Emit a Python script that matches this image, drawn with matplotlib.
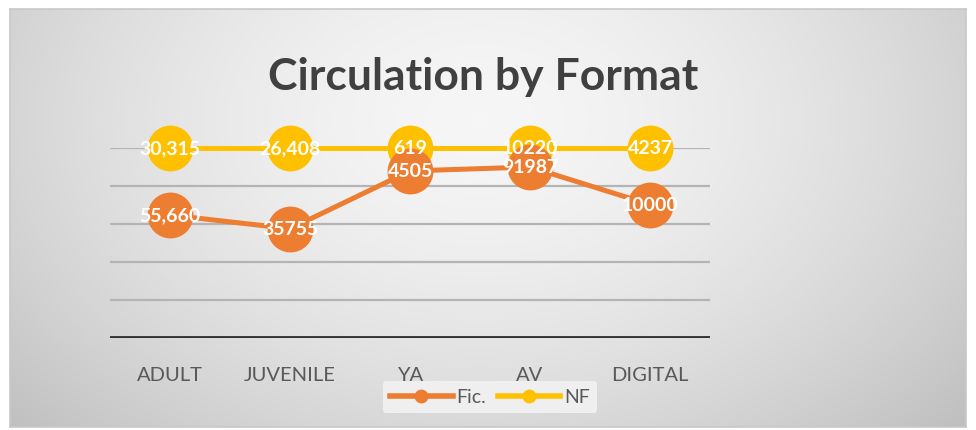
import numpy as np
import matplotlib
matplotlib.use('Agg')
import matplotlib.pyplot as plt
from matplotlib.lines import Line2D

# data (100% stacked line chart)
categories = ['ADULT', 'JUVENILE', 'YA', 'AV', 'DIGITAL']
fic = [55660, 35755, 4505, 91987, 10000]
nf = [30315, 26408, 619, 10220, 4237]
fic_labels = ['55,660', '35755', '4505', '91987', '10000']
nf_labels = ['30,315', '26,408', '619', '10220', '4237']

W, H = 976, 431
fig = plt.figure(figsize=(W / 100, H / 100), dpi=100)
fig.patch.set_facecolor('white')

# gradient panel behind the chart
bg = fig.add_axes([10 / W, 3 / H, 956 / W, 418 / H])
yy, xx = np.mgrid[0:418, 0:956]
r = np.sqrt(((xx - 470) / 600.0) ** 2 + ((yy - 110) / 420.0) ** 2)
shade = np.clip(0.965 - 0.19 * r ** 1.6, 0.75, 0.97)
bg.imshow(np.dstack([shade] * 3), aspect='auto', extent=[0, 1, 0, 1])
bg.set_xticks([])
bg.set_yticks([])
for s in bg.spines.values():
    s.set_color('#c8c8c8')
    s.set_linewidth(1.2)

ax = fig.add_axes([110 / W, 1 - 339 / H, 600 / W, 190 / H])
ax.patch.set_alpha(0)

x = np.arange(len(categories))
fic = np.array(fic, dtype=float)
nf = np.array(nf, dtype=float)
total = fic + nf
fic_share = fic / total
nf_share = (fic + nf) / total

orange = '#ED7D31'
gold = '#FFC000'

for yv in [0.2, 0.4, 0.6, 0.8, 1.0]:
    ax.axhline(yv, color='#b4b4b4', lw=1.6, zorder=1)
ax.axhline(0, color='#333333', lw=3.5, zorder=2)

ax.plot(x, nf_share, color=gold, lw=3.6, marker='o', ms=32, zorder=3, clip_on=False)
ax.plot(x, fic_share, color=orange, lw=3.6, marker='o', ms=32, zorder=4, clip_on=False)

lab_font = dict(color='white', fontsize=14, fontweight='bold', ha='center',
                va='center', family='Lato', zorder=6)
for i in range(len(categories)):
    ax.text(x[i], nf_share[i], nf_labels[i], **lab_font)
    ax.text(x[i], fic_share[i], fic_labels[i], **lab_font)

ax.set_xlim(-0.5, len(categories) - 0.5)
ax.set_ylim(0, 1)
ax.set_yticks([])
ax.set_xticks(x)
ax.set_xticklabels(categories, fontsize=14.5, color='#595959', family='Lato')
ax.tick_params(axis='x', length=0, pad=20)
for s in ax.spines.values():
    s.set_visible(False)

fig.text(483 / W, 1 - 77 / H, 'Circulation by Format', ha='center', va='center',
         fontsize=32, fontweight='bold', color='#404040', family='Lato')

handles = [Line2D([], [], color=orange, lw=4, marker='o', ms=9),
           Line2D([], [], color=gold, lw=4, marker='o', ms=9)]
leg = fig.legend(handles, ['Fic.', 'NF'], loc='center', ncol=2,
                 bbox_to_anchor=(490 / W, 1 - 398 / H), frameon=True,
                 handlelength=3.2, columnspacing=0.6, handletextpad=0.2,
                 prop={'family': 'Lato', 'size': 14})
leg.get_frame().set_facecolor('#f2f2f2')
leg.get_frame().set_edgecolor('none')
leg.get_frame().set_alpha(0.9)
for t in leg.get_texts():
    t.set_color('#595959')

fig.savefig('out.png', dpi=100)
